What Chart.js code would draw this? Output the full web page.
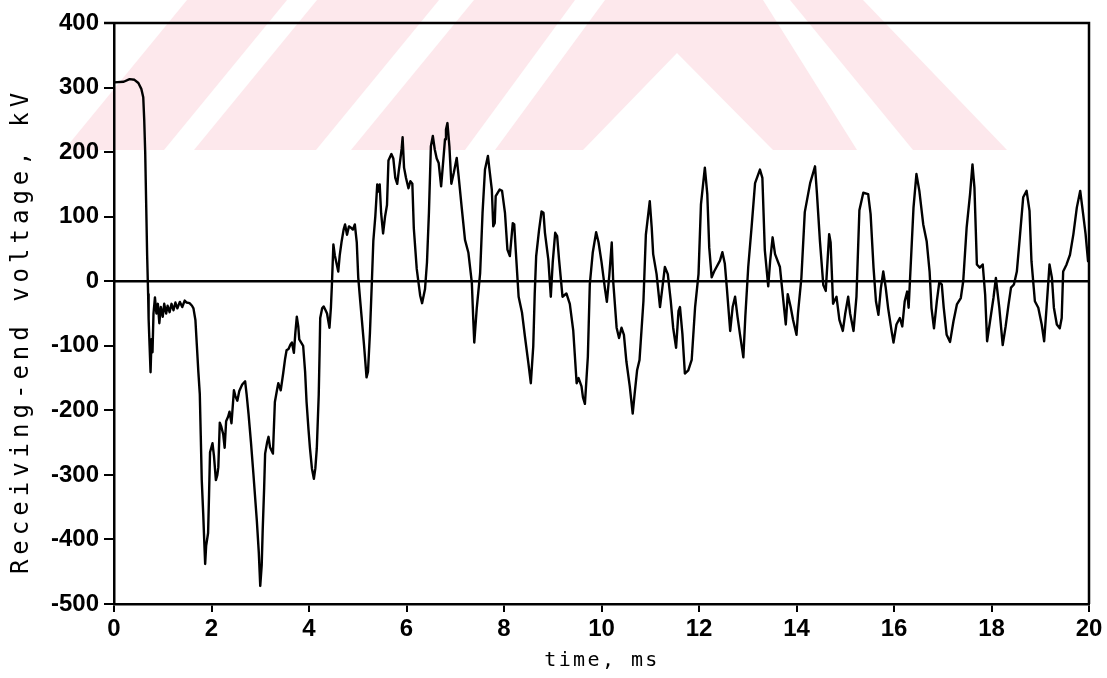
<!DOCTYPE html>
<html>
<head>
<meta charset="utf-8">
<title>Receiving-end voltage</title>
<script src="https://cdn.jsdelivr.net/npm/chart.js@4/dist/chart.umd.min.js"></script>
<style>
  html, body { margin: 0; padding: 0; background: #fff; }
  canvas { display: block; }
</style>
</head>
<body>
<canvas id="chart" width="1107" height="678"></canvas>
<script>
// Time axis samples, ms
const timeMs = [
  0, 0.2, 0.32, 0.42, 0.5, 0.56, 0.6, 0.62, 0.64, 0.66, 0.68, 0.7, 0.71, 0.73, 0.75, 0.77, 0.79, 0.81, 0.84, 0.87,
  0.9, 0.93, 0.96, 1.0, 1.03, 1.07, 1.1, 1.14, 1.18, 1.22, 1.26, 1.3, 1.35, 1.4, 1.45, 1.49, 1.55, 1.6, 1.63, 1.67,
  1.7, 1.73, 1.76, 1.78, 1.8, 1.83, 1.85, 1.87, 1.89, 1.93, 1.95, 1.97, 2.02, 2.05, 2.09, 2.12, 2.14, 2.17, 2.2, 2.24,
  2.27, 2.3, 2.34, 2.37, 2.41, 2.46, 2.49, 2.53, 2.57, 2.63, 2.69, 2.72, 2.76, 2.81, 2.86, 2.93, 2.97, 3.0, 3.03, 3.05,
  3.08, 3.1, 3.14, 3.17, 3.2, 3.26, 3.3, 3.34, 3.37, 3.42, 3.47, 3.51, 3.54, 3.58, 3.62, 3.65, 3.69, 3.72, 3.75, 3.78,
  3.8, 3.84, 3.88, 3.92, 3.95, 3.99, 4.02, 4.06, 4.1, 4.13, 4.16, 4.2, 4.22, 4.23, 4.27, 4.3, 4.34, 4.37, 4.42, 4.45,
  4.47, 4.5, 4.53, 4.57, 4.6, 4.63, 4.67, 4.71, 4.74, 4.78, 4.82, 4.86, 4.9, 4.94, 4.98, 5.01, 5.05, 5.08, 5.13, 5.18,
  5.21, 5.25, 5.29, 5.32, 5.36, 5.4, 5.42, 5.45, 5.48, 5.52, 5.56, 5.6, 5.63, 5.69, 5.73, 5.77, 5.81, 5.84, 5.87, 5.9,
  5.92, 5.95, 5.99, 6.04, 6.08, 6.12, 6.15, 6.21, 6.28, 6.32, 6.38, 6.42, 6.46, 6.5, 6.54, 6.58, 6.62, 6.66, 6.71, 6.75,
  6.79, 6.81, 6.84, 6.88, 6.92, 6.97, 7.03, 7.07, 7.13, 7.2, 7.27, 7.34, 7.37, 7.39, 7.44, 7.51, 7.56, 7.61, 7.67, 7.71,
  7.75, 7.78, 7.81, 7.83, 7.91, 7.96, 8.02, 8.07, 8.12, 8.18, 8.21, 8.24, 8.3, 8.37, 8.43, 8.5, 8.55, 8.6, 8.63, 8.66,
  8.72, 8.77, 8.81, 8.84, 8.91, 8.96, 9.0, 9.05, 9.09, 9.13, 9.2, 9.28, 9.35, 9.42, 9.49, 9.53, 9.59, 9.62, 9.66, 9.72,
  9.76, 9.82, 9.89, 9.94, 10.0, 10.07, 10.11, 10.16, 10.21, 10.24, 10.31, 10.36, 10.41, 10.46, 10.51, 10.58, 10.64, 10.68, 10.73, 10.78,
  10.86, 10.91, 10.99, 11.03, 11.06, 11.13, 11.2, 11.25, 11.3, 11.36, 11.42, 11.47, 11.53, 11.58, 11.61, 11.66, 11.71, 11.78, 11.85, 11.92,
  11.99, 12.04, 12.12, 12.17, 12.21, 12.26, 12.31, 12.36, 12.43, 12.48, 12.53, 12.57, 12.64, 12.69, 12.74, 12.79, 12.84, 12.91, 12.95, 13.01,
  13.08, 13.15, 13.25, 13.3, 13.35, 13.42, 13.46, 13.51, 13.56, 13.66, 13.73, 13.78, 13.82, 13.88, 13.93, 14.0, 14.03, 14.1, 14.17, 14.28,
  14.38, 14.42, 14.48, 14.55, 14.6, 14.67, 14.7, 14.75, 14.82, 14.88, 14.95, 15.0, 15.06, 15.1, 15.17, 15.23, 15.29, 15.37, 15.47, 15.52,
  15.58, 15.63, 15.68, 15.73, 15.78, 15.83, 15.88, 15.95, 15.99, 16.05, 16.12, 16.17, 16.22, 16.27, 16.3, 16.35, 16.4, 16.46, 16.52, 16.6,
  16.67, 16.73, 16.77, 16.82, 16.88, 16.93, 16.98, 17.02, 17.08, 17.15, 17.22, 17.29, 17.37, 17.42, 17.49, 17.56, 17.61, 17.65, 17.7, 17.76,
  17.82, 17.87, 17.91, 17.97, 18.04, 18.09, 18.16, 18.23, 18.29, 18.35, 18.4, 18.46, 18.52, 18.58, 18.65, 18.72, 18.78, 18.82, 18.89, 18.96,
  19.03, 19.08, 19.13, 19.19, 19.24, 19.28, 19.34, 19.4, 19.44, 19.47, 19.54, 19.61, 19.68, 19.75, 19.82, 19.88, 19.93, 19.98, 20.0
];

// Receiving-end voltage, kV
const voltageKV = [
  308, 309, 313, 312, 307, 298, 285, 250, 200, 120, 40, -20, -58, -100, -141, -90, -110, -50, -25, -50,
  -35, -65, -40, -55, -35, -50, -38, -48, -35, -45, -33, -42, -32, -40, -30, -33, -34, -38, -42, -60,
  -100, -140, -175, -240, -308, -360, -400, -438, -410, -390, -330, -265, -251, -270, -308, -300, -288, -219, -225, -237,
  -258, -217, -210, -202, -220, -169, -178, -185, -170, -160, -155, -175, -206, -250, -299, -371, -420, -472, -440, -386,
  -320, -267, -250, -241, -257, -267, -187, -170, -158, -169, -143, -120, -107, -105, -98, -95, -111, -80, -55, -70,
  -90, -95, -100, -140, -187, -230, -259, -290, -306, -290, -259, -175, -100, -57, -42, -39, -45, -50, -72, -40,
  -5, 57, 40, 26, 15, 40, 62, 80, 88, 72, 85, 83, 80, 88, 60, 6, -30, -56, -100, -149,
  -140, -80, 0, 63, 100, 150, 139, 150, 105, 74, 100, 118, 187, 197, 190, 160, 151, 170, 187, 205,
  223, 176, 160, 144, 155, 151, 82, 19, -22, -34, -12, 29, 106, 209, 225, 204, 190, 183, 147, 183,
  220, 235, 245, 209, 151, 168, 191, 162, 116, 64, 44, -2, -60, -95, -43, 12, 106, 173, 194, 168,
  142, 85, 90, 132, 142, 140, 106, 49, 39, 90, 88, 49, -24, -49, -86, -127, -158, -101, -20, 39,
  80, 108, 106, 75, 33, -24, 30, 75, 70, 33, -24, -19, -35, -76, -158, -150, -163, -180, -190, -117,
  -5, 44, 76, 60, 30, -11, -32, 9, 60, 0, -72, -88, -72, -83, -124, -163, -205, -174, -138, -122,
  -31, 72, 124, 83, 42, 11, -40, -9, 22, 11, -30, -72, -103, -46, -40, -82, -143, -138, -122, -40,
  11, 119, 176, 135, 52, 6, 15, 22, 32, 45, 27, -9, -77, -40, -24, -55, -82, -118, -55, 22,
  85, 152, 173, 160, 48, -8, 32, 68, 42, 22, -30, -67, -20, -40, -60, -83, -50, 5, 107, 152,
  178, 135, 63, -6, -15, 73, 60, -35, -24, -60, -77, -50, -24, -50, -77, -24, 110, 137, 135, 104,
  21, -31, -52, -11, 15, -10, -42, -77, -95, -67, -57, -70, -31, -16, -41, 36, 114, 166, 140, 88,
  62, 15, -42, -73, -30, -1, -5, -41, -83, -94, -62, -36, -26, 0, 83, 135, 181, 145, 26, 21,
  26, -21, -93, -62, -26, 5, -41, -99, -70, -36, -10, -5, 15, 67, 130, 140, 109, 31, -31, -41,
  -67, -93, -40, 26, 5, -41, -67, -73, -57, 15, 26, 41, 73, 114, 140, 104, 73, 31, 45
];

// Reference line at 0 kV across the whole time span
const zeroLineTime = [0, 20];
const zeroLineKV = [0, 0];

// Tick values
const timeTicks = [0, 2, 4, 6, 8, 10, 12, 14, 16, 18, 20];
const voltageTicks = [-500, -400, -300, -200, -100, 0, 100, 200, 300, 400];

const xTitle = 'time, ms';
const yTitle = 'Receiving-end voltage, kV';

const tracePoints = timeMs.map((t, i) => ({ x: t, y: voltageKV[i] }));
const zeroPoints = zeroLineTime.map((t, i) => ({ x: t, y: zeroLineKV[i] }));

const INK = '#000';
const tickFont = { family: "'Liberation Sans', Arial, sans-serif", size: 24, weight: 'bold' };

// Pale striped emblem behind the top of the figure
const emblem = {
  id: 'emblem',
  beforeDraw(chart) {
    const ctx = chart.ctx;
    ctx.save();
    ctx.fillStyle = '#fff';
    ctx.fillRect(0, 0, chart.width, chart.height);
    ctx.beginPath();
    ctx.rect(0, 0, chart.width, 150);
    ctx.clip();
    ctx.fillStyle = 'rgb(253,232,236)';
    const shapes = [
      [[64, 150], [164, 150], [287, 0], [187, 0]],
      [[194, 150], [316, 150], [439, 0], [317, 0]],
      [[351, 150], [465, 150], [575, 0], [474, 0]],
      [[495, 150], [583, 150], [677, 53], [773, 150], [857, 150], [763, 0], [605, 0]],
      [[913, 150], [1007, 150], [863, 0], [790, 0]]
    ];
    shapes.forEach(poly => {
      ctx.beginPath();
      poly.forEach(([px, py], k) => (k ? ctx.lineTo(px, py) : ctx.moveTo(px, py)));
      ctx.closePath();
      ctx.fill();
    });
    ctx.restore();
  }
};

// Closing frame lines and spaced axis titles
const frameAndTitles = {
  id: 'frameAndTitles',
  afterDraw(chart) {
    const { ctx, chartArea: a } = chart;
    ctx.save();
    ctx.strokeStyle = INK;
    ctx.lineWidth = 2.5;
    ctx.beginPath();
    ctx.moveTo(a.left - 10, a.top);
    ctx.lineTo(a.right, a.top);
    ctx.lineTo(a.right, a.bottom);
    ctx.stroke();

    ctx.fillStyle = INK;
    ctx.textAlign = 'center';
    ctx.textBaseline = 'middle';
    ctx.font = "20px 'DejaVu Sans Mono', monospace";
    ctx.letterSpacing = '2.4px';
    ctx.fillText(xTitle, 602, 661);

    ctx.translate(22, 333);
    ctx.rotate(-Math.PI / 2);
    ctx.font = "24px 'DejaVu Sans Mono', monospace";
    ctx.letterSpacing = '5px';
    ctx.fillText(yTitle, 2, 0);
    ctx.restore();
  }
};

new Chart(document.getElementById('chart'), {
  type: 'line',
  data: {
    datasets: [
      {
        data: zeroPoints,
        borderColor: INK,
        borderWidth: 2.6,
        pointRadius: 0,
        tension: 0
      },
      {
        data: tracePoints,
        borderColor: INK,
        borderWidth: 2.4,
        pointRadius: 0,
        tension: 0,
        borderJoinStyle: 'round'
      }
    ]
  },
  options: {
    responsive: false,
    animation: false,
    events: [],
    layout: { padding: { left: 0, right: 18, top: 23, bottom: 0 } },
    plugins: { legend: { display: false }, tooltip: { enabled: false } },
    scales: {
      x: {
        type: 'linear',
        min: 0,
        max: 20,
        afterBuildTicks: s => { s.ticks = timeTicks.map(v => ({ value: v })); },
        afterFit: s => { s.height = 74; },
        ticks: { color: INK, font: tickFont, padding: 3, maxRotation: 0, autoSkip: false },
        grid: { display: true, drawOnChartArea: false, drawTicks: true, tickLength: 8, color: INK, lineWidth: 2 },
        border: { display: true, color: INK, width: 2.5 }
      },
      y: {
        type: 'linear',
        min: -500,
        max: 400,
        afterBuildTicks: s => { s.ticks = voltageTicks.map(v => ({ value: v })); },
        afterFit: s => { s.width = 114; },
        ticks: { color: INK, font: tickFont, padding: 5, autoSkip: false },
        grid: { display: true, drawOnChartArea: false, drawTicks: true, tickLength: 10, color: INK, lineWidth: 2 },
        border: { display: true, color: INK, width: 2.5 }
      }
    }
  },
  plugins: [emblem, frameAndTitles]
});
</script>
</body>
</html>
